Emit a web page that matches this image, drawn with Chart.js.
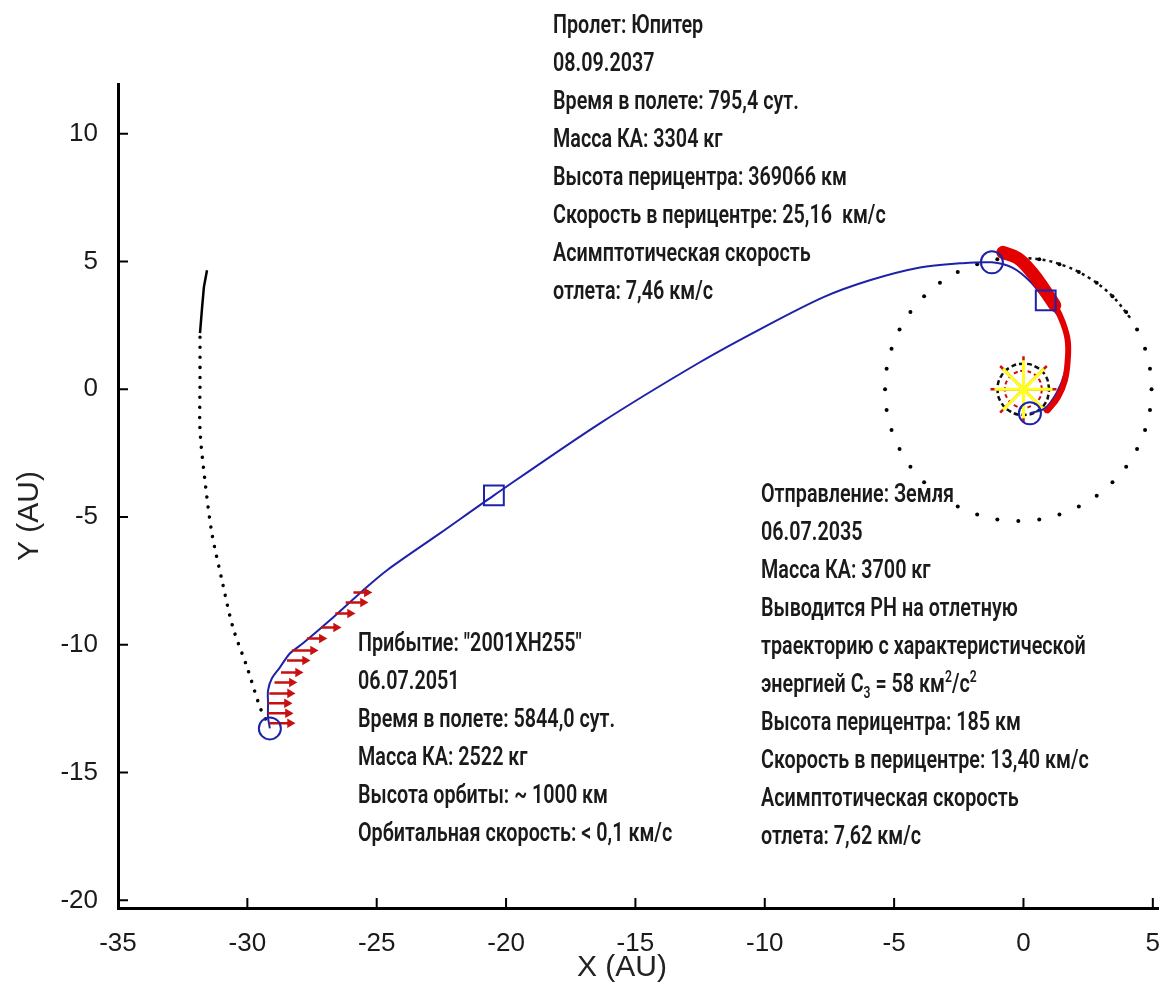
<!DOCTYPE html>
<html>
<head>
<meta charset="utf-8">
<script src="https://cdn.jsdelivr.net/npm/chart.js@4"></script>
<style>
body { margin: 0; background: #fff; }
#wrap { position: relative; width: 1166px; height: 994px; }
.note { position: absolute; font-family: Roboto, "Noto Sans", sans-serif; font-weight: 600; font-size: 26px; color: #1a1a1a; transform: scaleX(0.76); transform-origin: 0 0; white-space: nowrap; }
.note div { height: 38px; line-height: 38px; }
.note sub, .note sup { font-size: 16px; line-height: 0; }
</style>
</head>
<body>
<div id="wrap">
<canvas id="grafico" width="1166" height="994"></canvas>

<div class="note" style="left:553px;top:5px">
<div>Пролет: Юпитер</div>
<div>08.09.2037</div>
<div>Время в полете: 795,4 сут.</div>
<div>Масса КА: 3304 кг</div>
<div>Высота перицентра: 369066 км</div>
<div>Скорость в перицентре: 25,16 &nbsp;км/с</div>
<div>Асимптотическая скорость</div>
<div>отлета: 7,46 км/с</div>
</div>

<div class="note" style="left:761px;top:474px">
<div>Отправление: Земля</div>
<div>06.07.2035</div>
<div>Масса КА: 3700 кг</div>
<div>Выводится РН на отлетную</div>
<div>траекторию с характеристической</div>
<div>энергией C<sub>3</sub> = 58 км<sup>2</sup>/с<sup>2</sup></div>
<div>Высота перицентра: 185 км</div>
<div>Скорость в перицентре: 13,40 км/с</div>
<div>Асимптотическая скорость</div>
<div>отлета: 7,62 км/с</div>
</div>

<div class="note" style="left:358px;top:623px">
<div>Прибытие: "2001XH255"</div>
<div>06.07.2051</div>
<div>Время в полете: 5844,0 сут.</div>
<div>Масса КА: 2522 кг</div>
<div>Высота орбиты: ~ 1000 км</div>
<div>Орбитальная скорость: &lt; 0,1 км/с</div>
</div>
</div>

<script>
// eixos
var xTicks = [-35, -30, -25, -20, -15, -10, -5, 0, 5]
var yTicks = [-20, -15, -10, -5, 0, 5, 10]

// trajetoria do KA (AU)
var trajX = [0.25, 0.83, 1.29, 1.60, 1.71, 1.64, 1.41, 0.86, 0.25, -0.45, -1.22, -2.46, -4.00, -5.94, -7.75, -10.19, -12.51, -16.37, -20.47, -22.56, -24.60, -25.53, -26.81, -27.85, -28.35, -28.74, -29.05, -29.20, -29.20, -29.20, -29.13]
var trajY = [-0.94, -0.74, -0.12, 0.67, 1.53, 2.23, 2.78, 3.48, 4.23, 4.77, 4.97, 4.93, 4.77, 4.27, 3.60, 2.35, 1.06, -1.33, -4.15, -5.64, -7.08, -7.87, -9.04, -9.94, -10.33, -10.88, -11.31, -11.78, -12.29, -12.84, -13.27]

// arco de empuxo perto da Terra/Jupiter
var empuxoX = [-0.80, -0.22, 0.32, 0.83, 1.21, 1.52, 1.71, 1.71, 1.60, 1.33, 0.94]
var empuxoY = [5.36, 5.13, 4.58, 3.87, 3.29, 2.62, 1.92, 1.14, 0.35, -0.31, -0.82]

// setas de empuxo na chegada
var setaY = [-7.95, -8.34, -8.77, -9.32, -9.75, -10.22, -10.61, -11.08, -11.47, -11.90, -12.29, -12.68, -13.07]
var setaX0 = [-25.90, -26.20, -26.60, -27.15, -27.70, -28.28, -28.47, -28.70, -28.95, -29.15, -29.20, -29.20, -29.15]
var setaX1 = [-25.38, -25.53, -26.03, -26.57, -27.12, -27.46, -27.77, -28.04, -28.28, -28.35, -28.47, -28.43, -28.35]

// pontos: Terra, Jupiter, asteroide
var circX = [0.25, -1.22, -29.13]
var circY = [-0.94, 4.97, -13.27]
var quadX = [0.86, -20.47]
var quadY = [3.48, -4.15]

// orbita de Jupiter (pontos)
var jupX = [4.95, 4.89, 4.70, 4.39, 3.97, 3.44, 2.83, 2.14, 1.39, 0.61, -0.20, -1.01, -1.79, -2.54, -3.23, -3.84, -4.37, -4.79, -5.10, -5.29, -5.35, -5.29, -5.10, -4.79, -4.37, -3.84, -3.23, -2.54, -1.79, -1.01, -0.20, 0.61, 1.39, 2.14, 2.83, 3.44, 3.97, 4.39, 4.70, 4.89]
var jupY = [0, 0.81, 1.59, 2.34, 3.03, 3.64, 4.17, 4.59, 4.90, 5.09, 5.15, 5.09, 4.90, 4.59, 4.17, 3.64, 3.03, 2.34, 1.59, 0.81, 0, -0.81, -1.59, -2.34, -3.03, -3.64, -4.17, -4.59, -4.90, -5.09, -5.15, -5.09, -4.90, -4.59, -4.17, -3.64, -3.03, -2.34, -1.59, -0.81]
var jupArcoX = [4.12, 3.44, 2.60, 1.65, 0.61, -0.47]
var jupArcoY = [2.80, 3.64, 4.32, 4.81, 5.09, 5.14]

// orbita da Terra e de Venus
var terraX = [1, 0.87, 0.5, 0, -0.5, -0.87, -1, -0.87, -0.5, 0, 0.5, 0.87, 1]
var terraY = [0, 0.5, 0.87, 1, 0.87, 0.5, 0, -0.5, -0.87, -1, -0.87, -0.5, 0]
var venusX = [0.72, 0.62, 0.36, 0, -0.36, -0.62, -0.72, -0.62, -0.36, 0, 0.36, 0.62, 0.72]
var venusY = [0, 0.36, 0.62, 0.72, 0.62, 0.36, 0, -0.36, -0.62, -0.72, -0.62, -0.36, 0]

// orbita do asteroide
var astX = [-29.30, -29.51, -30.01, -30.56, -30.98, -31.37, -31.64, -31.83, -31.83, -31.83]
var astY = [-12.90, -12.45, -10.88, -9.31, -7.48, -5.64, -3.56, -1.60, 0.23, 2.04]
var astSolX = [-31.83, -31.75, -31.68, -31.56]
var astSolY = [2.20, 3.20, 4.00, 4.66]

function pares(xs, ys) {
    return xs.map(function (v, i) { return { x: v, y: ys[i] } })
}

var setas = []
for (var i = 0; i < setaY.length; i++) {
    setas.push({ x: setaX0[i], y: setaY[i] })
    setas.push({ x: setaX1[i], y: setaY[i] })
    setas.push({ x: null, y: null })
}

var azul = '#1e22a8'
var vermelho = '#e30000'

var ticksDentro = {
    id: 'ticksDentro',
    afterDraw(chart) {
        var ctx = chart.ctx, a = chart.chartArea
        var sx = chart.scales.x, sy = chart.scales.y
        ctx.save()
        ctx.strokeStyle = '#000'
        ctx.lineWidth = 2
        ctx.beginPath()
        xTicks.forEach(function (v) { var p = sx.getPixelForValue(v); ctx.moveTo(p, a.bottom); ctx.lineTo(p, a.bottom - 10) })
        yTicks.forEach(function (v) { var p = sy.getPixelForValue(v); ctx.moveTo(a.left, p); ctx.lineTo(a.left + 10, p) })
        ctx.stroke()
        //titulos dos eixos
        ctx.fillStyle = '#222'
        ctx.font = '30px "Liberation Sans"'
        ctx.textAlign = 'center'
        ctx.textBaseline = 'middle'
        ctx.fillText('X (AU)', 622, 968)
        ctx.translate(30, 516)
        ctx.rotate(-Math.PI / 2)
        ctx.fillText('Y (AU)', 0, 0)
        ctx.restore()
    }
}

var grafico = new Chart(document.getElementById('grafico'), {
    type: 'scatter',
    data: {
        datasets: [
            { data: pares(circX, circY), pointStyle: 'circle', pointRadius: 11, borderColor: azul, backgroundColor: 'transparent', borderWidth: 2 },
            { data: pares(quadX, quadY), pointStyle: 'rect', pointRadius: 14, borderColor: azul, backgroundColor: 'transparent', borderWidth: 2 },
            { data: setas, showLine: true, spanGaps: false, borderColor: '#c81010', borderWidth: 2.5,
              pointRadius: function (c) { return c.dataIndex % 3 === 1 ? 3 : 0 }, pointStyle: 'triangle', pointRotation: 90, backgroundColor: '#c81010', pointBorderColor: '#c81010' },
            { data: pares(empuxoX.slice(0, 5), empuxoY.slice(0, 5)), showLine: true, tension: 0.4, borderColor: vermelho, borderWidth: 13, pointRadius: 0, borderCapStyle: 'round' },
            { data: pares(empuxoX, empuxoY), showLine: true, tension: 0.4, borderColor: vermelho, borderWidth: 6, pointRadius: 0, borderCapStyle: 'round' },
            { data: pares(trajX, trajY), showLine: true, tension: 0.3, borderColor: azul, borderWidth: 2, pointRadius: 0 },
            { data: [{ x: 0, y: 0 }], pointStyle: 'star', pointRadius: 29, borderColor: '#ffff22', borderWidth: 3 },
            { data: [{ x: 0, y: 0 }], pointStyle: 'star', pointRadius: 33, borderColor: '#d01010', borderWidth: 2.5 },
            { data: pares(venusX, venusY), showLine: true, tension: 0.45, borderColor: '#c81010', borderWidth: 2, borderDash: [4, 3], pointRadius: 0 },
            { data: pares(terraX, terraY), showLine: true, tension: 0.45, borderColor: '#111', borderWidth: 2.5, borderDash: [5, 3], pointRadius: 0 },
            { data: pares(astSolX, astSolY), showLine: true, borderColor: '#000', borderWidth: 2.5, pointRadius: 0 },
            { data: pares(astX, astY), showLine: true, tension: 0.3, borderColor: '#000', borderWidth: 3.5, borderDash: [0.01, 10], borderCapStyle: 'round', pointRadius: 0 },
            { data: pares(jupArcoX, jupArcoY), showLine: true, tension: 0.4, borderColor: '#111', borderWidth: 2.5, borderDash: [3, 4], pointRadius: 0 },
            { data: pares(jupX, jupY), pointRadius: 2, backgroundColor: '#000', borderWidth: 0 }
        ]
    },
    options: {
        responsive: false,
        animation: false,
        devicePixelRatio: 1,
        layout: { autoPadding: false, padding: { top: 84, right: 8, left: 0, bottom: 0 } },
        plugins: { legend: { display: false }, tooltip: { enabled: false } },
        scales: {
            x: {
                type: 'linear', min: -35, max: 5.2,
                grid: { display: false },
                border: { display: true, color: '#000', width: 3 },
                ticks: { font: { family: 'Liberation Sans', size: 26 }, color: '#1a1a1a', padding: 12 },
                afterBuildTicks: function (s) { s.ticks = xTicks.map(function (v) { return { value: v } }) },
                afterFit: function (s) { s.height = 86; s.paddingLeft = 0; s.paddingRight = 0 }
            },
            y: {
                type: 'linear', min: -20.3, max: 11.95,
                grid: { display: false },
                border: { display: true, color: '#000', width: 3 },
                ticks: { font: { family: 'Liberation Sans', size: 26 }, color: '#1a1a1a', padding: 12 },
                afterBuildTicks: function (s) { s.ticks = yTicks.map(function (v) { return { value: v } }) },
                afterFit: function (s) { s.width = 118; s.paddingTop = 0; s.paddingBottom = 0 }
            }
        }
    },
    plugins: [ticksDentro]
});
</script>
</body>
</html>
